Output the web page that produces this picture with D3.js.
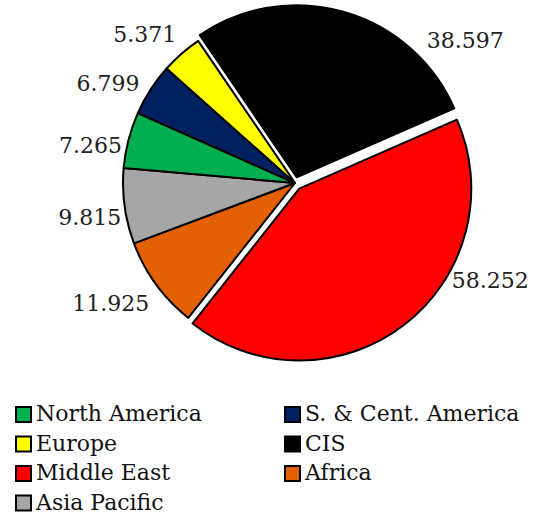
<!DOCTYPE html>
<head>
    <meta charset="utf-8">
    <style>
        body{
            margin:0;
            background:#fff;
        }
        svg{
            display:block;
        }
        .lbl{
            font-family: "DejaVu Serif", serif;
            font-size: 22px;
            fill: #222;
        }
        .leg{
            font-family: "DejaVu Serif", serif;
            font-size: 22px;
            fill: #111;
        }
        .slice{
            stroke:#000;
            stroke-width:2px;
            stroke-linejoin: round;
        }
    </style>
</head>
<body>
    <div id="chart"></div>
    <script src="https://cdnjs.cloudflare.com/ajax/libs/d3/7.8.5/d3.min.js"></script>
    <script>
        // slices, clockwise starting from the Middle East wedge
        var regions = ["Middle East", "Africa", "Asia Pacific", "North America", "S. & Cent. America", "Europe", "CIS"];
        var values = [58.252, 11.925, 9.815, 7.265, 6.799, 5.371, 38.597];
        var colors = ["#ff0000", "#e36005", "#a6a6a6", "#00b050", "#002060", "#ffff00", "#000000"];

        // legend reads row by row, two columns
        var legendOrder = ["North America", "S. & Cent. America", "Europe", "CIS", "Middle East", "Africa", "Asia Pacific"];

        var width = 550, height = 523;
        var cx = 295, cy = 183, radius = 172;
        var startDeg = 66.4;

        // pulled-out wedges
        var explode = {"Middle East": 7, "CIS": 6};

        // small nudges for the value labels (degrees, px)
        var labelAdj = {
            "Middle East": [-26, 218],
            "Africa": [3, 220],
            "Asia Pacific": [-1.6, 208],
            "North America": [-4, 208],
            "S. & Cent. America": [-4.8, 212],
            "Europe": [-4.1, 211],
            "CIS": [34, 222]
        };

        var color = d3.scaleOrdinal().domain(regions).range(colors);

        var svg = d3.select("#chart").append("svg")
            .attr("width", width)
            .attr("height", height);

        var pie = d3.pie()
            .sort(null)
            .value(function(d) { return d.value; })
            .startAngle(startDeg * Math.PI / 180)
            .endAngle(startDeg * Math.PI / 180 + 2 * Math.PI);

        var data = regions.map(function(r, i) { return {name: r, value: values[i]}; });

        var arc = d3.arc().innerRadius(0).outerRadius(radius);

        var g = svg.append("g").attr("transform", "translate(" + cx + "," + cy + ")");

        var arcs = pie(data);

        g.selectAll("path")
            .data(arcs)
            .enter().append("path")
            .attr("class", "slice")
            .attr("d", arc)
            .attr("fill", function(d) { return color(d.data.name); })
            .attr("transform", function(d) {
                var k = explode[d.data.name] || 0;
                var mid = (d.startAngle + d.endAngle) / 2;
                return "translate(" + (Math.sin(mid) * k) + "," + (-Math.cos(mid) * k) + ")";
            });

        g.selectAll("text")
            .data(arcs)
            .enter().append("text")
            .attr("class", "lbl")
            .attr("text-anchor", "middle")
            .attr("dy", "0.35em")
            .attr("x", function(d) {
                var a = labelAdj[d.data.name];
                var mid = (d.startAngle + d.endAngle) / 2 + a[0] * Math.PI / 180;
                return Math.sin(mid) * a[1];
            })
            .attr("y", function(d) {
                var a = labelAdj[d.data.name];
                var mid = (d.startAngle + d.endAngle) / 2 + a[0] * Math.PI / 180;
                return -Math.cos(mid) * a[1];
            })
            .text(function(d) { return d3.format(".3f")(d.data.value); });

        // legend
        var legX = [15, 284], legY0 = 406, rowH = 29.5;

        var leg = svg.append("g").selectAll("g")
            .data(legendOrder)
            .enter().append("g")
            .attr("transform", function(d, i) {
                return "translate(" + legX[i % 2] + "," + (legY0 + Math.floor(i / 2) * rowH) + ")";
            });

        leg.append("rect")
            .attr("x", 1)
            .attr("y", 1)
            .attr("width", 15)
            .attr("height", 15)
            .attr("fill", function(d) { return color(d); })
            .attr("stroke", "#000")
            .attr("stroke-width", 2);

        leg.append("text")
            .attr("class", "leg")
            .attr("x", 21)
            .attr("y", 15)
            .text(function(d) { return d; });
    </script>
</body>
